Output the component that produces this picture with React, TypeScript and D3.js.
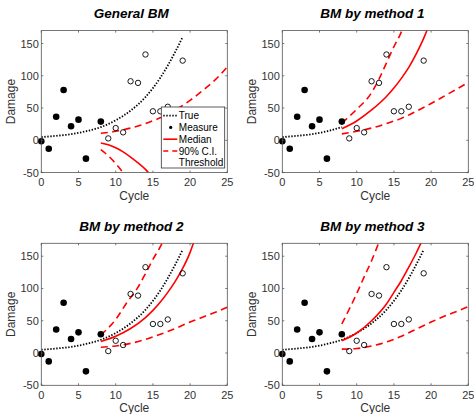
import * as d3 from "d3";

// measured damage (filled) and future observations (open)
const measCycle = [0, 1, 2, 3, 4, 5, 6, 8];
const measDamage = [-1.5, -13, 36.5, 78, 21.7, 32, -28.4, 29];
const futCycle = [9, 10, 11, 12, 13, 14, 15, 16, 17, 19];
const futDamage = [3, 19, 12.4, 91.5, 89, 133, 45, 45, 52, 123.5];

// true degradation curve
const trueCycle = [0, 2, 4, 6, 8, 10, 12, 14, 16, 18, 19];
const trueDamage = [5, 7, 9.5, 14, 20.5, 31, 46, 67, 97, 137, 160];

// General BM
const genMedC = [8, 9, 10, 11, 12, 13, 14, 14.4];
const genMedV = [-4, -7, -11.5, -18, -26, -35, -45, -50];
const genLoC = [8, 9, 10, 11];
const genLoV = [-14.5, -24, -36, -50];
const genUpC = [8, 10, 12, 14, 16, 18, 20, 22, 24, 25];
const genUpV = [11, 14, 19, 26, 35, 47, 62, 80, 101, 114];

// method 1
const m1MedC = [8, 10, 12, 14, 15, 16, 17, 18, 19, 19.5];
const m1MedV = [18, 30, 47, 68, 81, 96, 113, 134, 158, 172];
const m1UpC = [8, 10, 12, 13, 14, 15, 16, 16.2];
const m1UpV = [27, 48, 74, 95, 120, 145, 168, 174];
const m1LoC = [8, 10, 12, 14, 16, 18, 20, 22, 24, 25];
const m1LoV = [10, 14, 19, 26, 34, 45, 57, 70, 83, 90];

// method 2
const m2MedC = [8, 10, 12, 14, 15, 16, 17, 18, 19, 20, 20.5];
const m2MedV = [18, 26, 38, 55, 66, 79, 94, 111, 131, 156, 172];
const m2UpC = [8, 10, 11.5, 13, 14, 15, 16, 16.3];
const m2UpV = [28, 52, 78, 102, 123, 145, 165, 172];
const m2LoC = [8, 10, 12, 14, 16, 18, 20, 22, 24, 25];
const m2LoV = [9, 11, 15, 21, 29, 38, 48, 57, 66, 71];

// method 3
const m3MedC = [8, 10, 12, 14, 15, 16, 17, 18, 18.7];
const m3MedV = [19, 31, 50, 76, 94, 112, 133, 155, 172];
const m3UpC = [8, 9, 10, 11, 12, 13];
const m3UpV = [45, 68, 92, 118, 143, 172];
const m3LoC = [8, 10, 12, 14, 16, 18, 20, 22, 24, 25];
const m3LoV = [6, 7, 11, 17, 26, 37, 48, 58, 67, 72];

const xTicks = [0, 5, 10, 15, 20, 25];
const yTicks = [-50, 0, 50, 100, 150];
const legendLabels = ["True", "Measure", "Median", "90% C.I.", "Threshold"];

const zip = (c: number[], v: number[]) => c.map((t, i) => [t, v[i]] as [number, number]);

const panels = [
  { title: "General BM", left: 41.3, top: 30.6, med: zip(genMedC, genMedV), up: zip(genUpC, genUpV), lo: zip(genLoC, genLoV), trueTo: 19, legend: true },
  { title: "BM by method 1", left: 282.3, top: 30.6, med: zip(m1MedC, m1MedV), up: zip(m1UpC, m1UpV), lo: zip(m1LoC, m1LoV), trueTo: 8, legend: false },
  { title: "BM by method 2", left: 41.3, top: 243.3, med: zip(m2MedC, m2MedV), up: zip(m2UpC, m2UpV), lo: zip(m2LoC, m2LoV), trueTo: 19, legend: false },
  { title: "BM by method 3", left: 282.3, top: 243.3, med: zip(m3MedC, m3MedV), up: zip(m3UpC, m3UpV), lo: zip(m3LoC, m3LoV), trueTo: 19, legend: false },
];

const W = 186;
const H = 142;
const font = "'Liberation Sans', Arial, sans-serif";
const RED = "#ff0000";

function Panel({ p, idx }: { p: (typeof panels)[number]; idx: number }) {
  const x = d3.scaleLinear().domain([0, 25]).range([0, W]);
  const y = d3.scaleLinear().domain([-50, 170]).range([H, 0]);
  const line = d3
    .line<[number, number]>()
    .x((d) => x(d[0]))
    .y((d) => y(d[1]))
    .curve(d3.curveMonotoneX);
  const truePts = zip(trueCycle, trueDamage).filter((d) => d[0] <= p.trueTo);
  const clipId = "clip" + idx;

  return (
    <g transform={`translate(${p.left},${p.top})`}>
      <defs>
        <clipPath id={clipId}>
          <rect x={0} y={0} width={W} height={H} />
        </clipPath>
      </defs>
      <rect x={0} y={0} width={W} height={H} fill="#fff" />
      <text x={W / 2 - 3} y={-12.5} textAnchor="middle" fontFamily={font} fontSize={13.5} fontWeight="bold" fontStyle="italic" fill="#000">
        {p.title}
      </text>
      <g clipPath={`url(#${clipId})`}>
        <path d={line(truePts) || ""} fill="none" stroke="#000" strokeWidth={1.8} strokeDasharray="1.4 1.6" />
        <path d={line(p.med) || ""} fill="none" stroke={RED} strokeWidth={1.6} />
        <path d={line(p.up) || ""} fill="none" stroke={RED} strokeWidth={1.6} strokeDasharray="7 4.5" />
        <path d={line(p.lo) || ""} fill="none" stroke={RED} strokeWidth={1.6} strokeDasharray="7 4.5" />
      </g>
      {measCycle.map((c, i) => (
        <circle key={"m" + i} cx={x(c)} cy={y(measDamage[i])} r={3.3} fill="#000" />
      ))}
      {futCycle.map((c, i) => (
        <circle key={"f" + i} cx={x(c)} cy={y(futDamage[i])} r={2.7} fill="none" stroke="#000" strokeWidth={0.9} />
      ))}
      {/* axes box and ticks */}
      <rect x={0} y={0} width={W} height={H} fill="none" stroke="#555" strokeWidth={0.8} />
      {xTicks.map((t) => (
        <g key={"xt" + t}>
          <line x1={x(t)} x2={x(t)} y1={H} y2={H - 2} stroke="#555" strokeWidth={0.8} />
          <line x1={x(t)} x2={x(t)} y1={0} y2={2} stroke="#555" strokeWidth={0.8} />
          <text x={x(t)} y={H + 13.5} textAnchor="middle" fontFamily={font} fontSize={11} fill="#333">
            {t}
          </text>
        </g>
      ))}
      {yTicks.map((t) => (
        <g key={"yt" + t}>
          <line x1={0} x2={2} y1={y(t)} y2={y(t)} stroke="#555" strokeWidth={0.8} />
          <line x1={W} x2={W - 2} y1={y(t)} y2={y(t)} stroke="#555" strokeWidth={0.8} />
          <text x={-2.5} y={y(t) + 4} textAnchor="end" fontFamily={font} fontSize={11} fill="#333">
            {t}
          </text>
        </g>
      ))}
      <text x={W / 2} y={H + 27} textAnchor="middle" fontFamily={font} fontSize={12} fill="#333">
        Cycle
      </text>
      <text transform={`translate(-26.5,${H / 2}) rotate(-90)`} textAnchor="middle" fontFamily={font} fontSize={12} fill="#333">
        Damage
      </text>
      {p.legend && (
        <g transform="translate(120,76.4)">
          <rect x={0} y={0} width={63.4} height={61} fill="#fff" stroke="#333" strokeWidth={0.8} />
          {legendLabels.map((lab, i) => {
            const cy = 8.7 + i * 11.75;
            return (
              <g key={lab}>
                {i === 0 && <line x1={2} x2={16} y1={cy} y2={cy} stroke="#000" strokeWidth={1.8} strokeDasharray="1.4 1.6" />}
                {i === 1 && <circle cx={9.4} cy={cy} r={1.6} fill="#000" />}
                {i === 2 && <line x1={2} x2={16} y1={cy} y2={cy} stroke={RED} strokeWidth={1.6} />}
                {i === 3 && <line x1={2} x2={16} y1={cy} y2={cy} stroke={RED} strokeWidth={1.6} strokeDasharray="5 4" />}
                <text x={17.5} y={cy + 3.6} fontFamily={font} fontSize={10} fill="#000">
                  {lab}
                </text>
              </g>
            );
          })}
        </g>
      )}
    </g>
  );
}

export default function App() {
  return (
    <svg width={474} height={414} style={{ position: "absolute", left: 0, top: 0, background: "#fff" }}>
      {panels.map((p, i) => (
        <Panel key={p.title} p={p} idx={i} />
      ))}
    </svg>
  );
}
